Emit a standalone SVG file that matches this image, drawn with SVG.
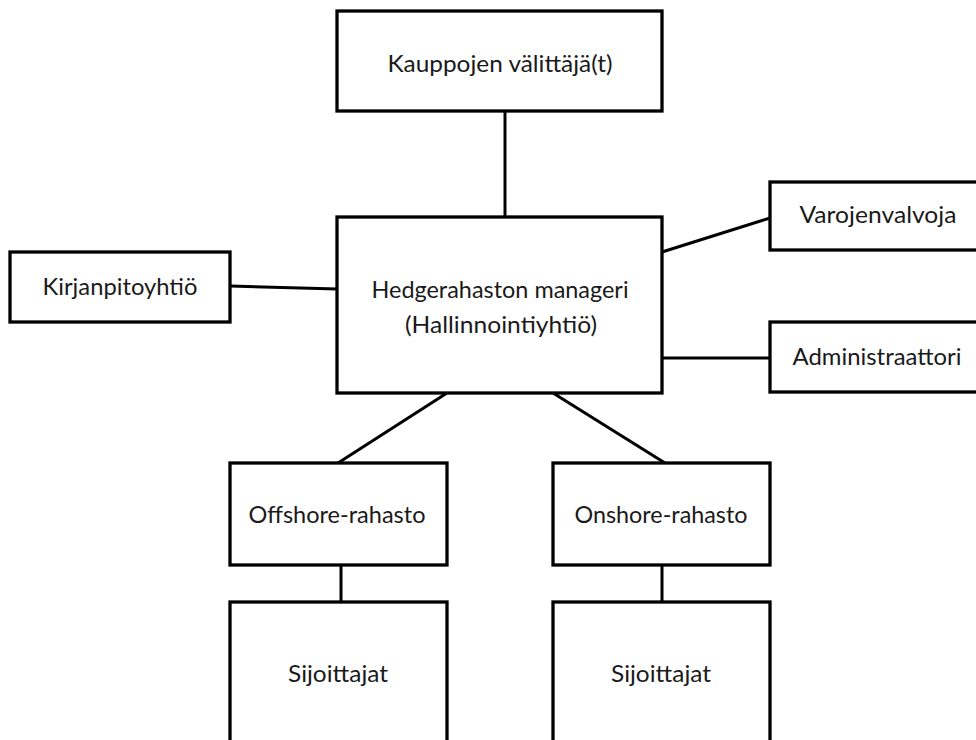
<svg xmlns="http://www.w3.org/2000/svg" width="976" height="740" viewBox="0 0 976 740">
  <style>
    .box { fill: #ffffff; stroke: #000000; stroke-width: 3.3; }
    .link { stroke: #000000; stroke-width: 3; fill: none; }
    .label { font-family: Lato, "Open Sans", sans-serif; font-size: 24px; fill: #1a1a1a; text-anchor: middle; }
  </style>
  <rect width="976" height="740" fill="#ffffff"/>

  <!-- connectors -->
  <g id="connectors">
    <line class="link" x1="505" y1="111" x2="505" y2="217"/>
    <line class="link" x1="230" y1="286" x2="337" y2="289"/>
    <line class="link" x1="662" y1="252" x2="770" y2="218"/>
    <line class="link" x1="662" y1="358" x2="770" y2="358"/>
    <line class="link" x1="447" y1="393" x2="338" y2="463"/>
    <line class="link" x1="553" y1="393" x2="665" y2="463"/>
    <line class="link" x1="341" y1="565" x2="341" y2="602"/>
    <line class="link" x1="662" y1="565" x2="662" y2="602"/>
  </g>

  <!-- nodes -->
  <g id="broker">
    <rect class="box" x="337" y="11" width="325" height="100"/>
    <text class="label" x="500" y="72" textLength="225" lengthAdjust="spacingAndGlyphs">Kauppojen välittäjä(t)</text>
  </g>
  <g id="manager">
    <rect class="box" x="337" y="217" width="325" height="176"/>
    <text class="label" x="500" y="298" textLength="257" lengthAdjust="spacingAndGlyphs">Hedgerahaston manageri</text>
    <text class="label" x="501" y="333" textLength="192" lengthAdjust="spacingAndGlyphs">(Hallinnointiyhtiö)</text>
  </g>
  <g id="accounting">
    <rect class="box" x="10" y="252" width="220" height="70"/>
    <text class="label" x="120" y="295" textLength="155" lengthAdjust="spacingAndGlyphs">Kirjanpitoyhtiö</text>
  </g>
  <g id="custodian">
    <rect class="box" x="770" y="182" width="216" height="68"/>
    <text class="label" x="878" y="223" textLength="157" lengthAdjust="spacingAndGlyphs">Varojenvalvoja</text>
  </g>
  <g id="administrator">
    <rect class="box" x="770" y="322" width="216" height="70"/>
    <text class="label" x="877" y="365" textLength="169" lengthAdjust="spacingAndGlyphs">Administraattori</text>
  </g>
  <g id="offshore">
    <rect class="box" x="230" y="463" width="217" height="102"/>
    <text class="label" x="337" y="523" textLength="177" lengthAdjust="spacingAndGlyphs">Offshore-rahasto</text>
  </g>
  <g id="onshore">
    <rect class="box" x="553" y="463" width="217" height="102"/>
    <text class="label" x="661" y="523" textLength="173" lengthAdjust="spacingAndGlyphs">Onshore-rahasto</text>
  </g>
  <g id="investors-offshore">
    <rect class="box" x="230" y="602" width="217" height="160"/>
    <text class="label" x="338" y="682" textLength="100" lengthAdjust="spacingAndGlyphs">Sijoittajat</text>
  </g>
  <g id="investors-onshore">
    <rect class="box" x="553" y="602" width="217" height="160"/>
    <text class="label" x="661" y="682" textLength="100" lengthAdjust="spacingAndGlyphs">Sijoittajat</text>
  </g>
</svg>
